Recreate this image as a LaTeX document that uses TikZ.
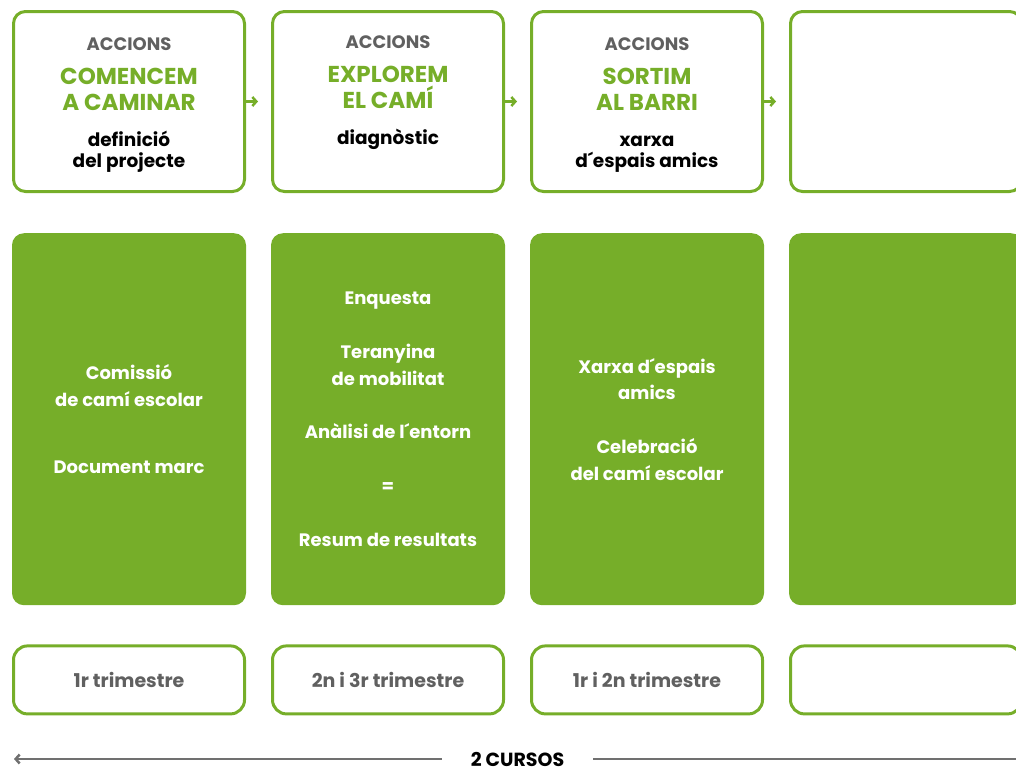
\documentclass[tikz,border=0pt]{standalone}
\usepackage{fontspec}
\setmainfont{Poppins}
\usetikzlibrary{positioning, arrows.meta}
\definecolor{camigreen}{RGB}{118,174,41}
\definecolor{textgray}{RGB}{96,96,96}
\definecolor{linegray}{RGB}{112,112,112}
\tikzset{
  actionbox/.style={draw=camigreen, line width=3pt, rounded corners=12pt,
    minimum width=231pt, minimum height=180pt},
  taskbox/.style={fill=camigreen, rounded corners=12pt, inner sep=0pt,
    minimum width=234pt, minimum height=372pt},
  termbox/.style={draw=camigreen, line width=3pt, rounded corners=14pt,
    minimum width=231pt, minimum height=68pt, text=textgray,
    font=\fontsize{19}{20}\selectfont\bfseries},
  accions/.style={font=\fontsize{18}{20}\selectfont\bfseries, text=textgray, inner sep=0pt},
  stagename/.style={font=\fontsize{23}{26}\selectfont\bfseries, text=camigreen,
    align=center, inner sep=0pt},
  stagesub/.style={font=\fontsize{18.5}{21}\selectfont\bfseries, align=center, inner sep=0pt},
  tasktext/.style={font=\fontsize{18}{26.8}\selectfont\bfseries, text=white,
    align=center, inner sep=0pt},
  flow/.style={->, camigreen, line width=2.5pt, shorten >=13pt},
  timeline/.style={->, linegray, line width=2.5pt}
}

\begin{document}
\begin{tikzpicture}[x=1pt, y=1pt, >={Straight Barb[length=4pt,width=9pt]}]
    \useasboundingbox (0,0) rectangle (1016,-771);

    % accions
    \node [actionbox] (acc1) at (129,-101.5) {};
    \node [actionbox, right=25pt of acc1] (acc2) {};
    \node [actionbox, right=25pt of acc2] (acc3) {};
    \node [actionbox, right=25pt of acc3] (acc4) {};

    \node [accions, below=27pt of acc1.north] (acc1a) {ACCIONS};
    \node [stagename, below=18pt of acc1a] (acc1b) {COMENCEM\\A CAMINAR};
    \node [stagesub, below=20pt of acc1b] (acc1c) {definició\\del projecte};

    \node [accions, below=25pt of acc2.north] (acc2a) {ACCIONS};
    \node [stagename, below=18pt of acc2a] (acc2b) {EXPLOREM\\EL CAMÍ};
    \node [stagesub, below=20pt of acc2b] (acc2c) {diagnòstic};

    \node [accions, below=27pt of acc3.north] (acc3a) {ACCIONS};
    \node [stagename, below=18pt of acc3a] (acc3b) {SORTIM\\AL BARRI};
    \node [stagesub, below=25pt of acc3b] (acc3c) {xarxa\\d´espais amics};

    \draw [flow] (acc1) -- (acc2);
    \draw [flow] (acc2) -- (acc3);
    \draw [flow] (acc3) -- (acc4);

    % tasques
    \node [taskbox, below=40pt of acc1] (task1) {};
    \node [taskbox, below=40pt of acc2] (task2) {};
    \node [taskbox, below=40pt of acc3] (task3) {};
    \node [taskbox, below=40pt of acc4] (task4) {};

    \node [tasktext] (task1t) at (task1) {Comissió\\de camí escolar\\[41pt]Document marc};
    \node [tasktext] (task2t) at (task2) {Enquesta\\[26.8pt]Teranyina\\de mobilitat\\[26.8pt]Anàlisi de l´entorn\\[26.8pt]=\\[26.8pt]Resum de resultats};
    \node [tasktext] (task3t) at (task3) {Xarxa d´espais\\amics\\[26.8pt]Celebració\\del camí escolar};

    % periodes
    \node [termbox, below=39pt of task1] (term1) {1r trimestre};
    \node [termbox, below=39pt of task2] (term2) {2n i 3r trimestre};
    \node [termbox, below=39pt of task3] (term3) {1r i 2n trimestre};
    \node [termbox, below=39pt of task4] (term4) {};

    \node [font=\fontsize{19}{20}\selectfont\bfseries, inner xsep=29pt, inner ysep=0pt] (cursos) at (517.5,-759) {2 CURSOS};
    \coordinate (tlleft) at (14,-759);
    \coordinate (tlright) at (1030,-759);
    \draw [timeline] (cursos) -- (tlleft);
    \draw [timeline] (cursos) -- (tlright);
\end{tikzpicture}
\end{document}
